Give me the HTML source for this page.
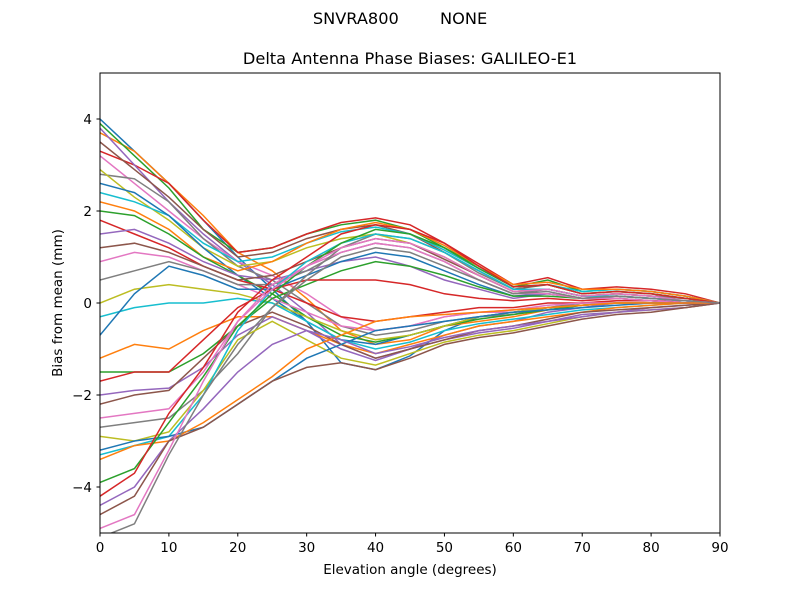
<!DOCTYPE html>
<html><head><meta charset="utf-8"><style>
body{margin:0;background:#fff}
svg{font-family:"DejaVu Sans","Liberation Sans",sans-serif}
</style></head><body>
<svg id="chart" width="800" height="600">
<rect width="800" height="600" fill="#fff"/>
<text x="400" y="24" text-anchor="middle" font-size="16.2" xml:space="preserve">SNVRA800        NONE</text>
<text x="410" y="64" text-anchor="middle" font-size="16.2">Delta Antenna Phase Biases: GALILEO-E1</text>
<defs><clipPath id="clip"><rect x="100" y="73" width="620" height="460"/></clipPath></defs>
<g id="lines" clip-path="url(#clip)"></g>
<rect x="100" y="73" width="620" height="460" fill="none" stroke="#000" stroke-width="1"/>
<g id="axes"></g>
<text x="410" y="574" text-anchor="middle" font-size="13.5">Elevation angle (degrees)</text>
<text transform="translate(62,303) rotate(-90)" text-anchor="middle" font-size="13.5">Bias from mean (mm)</text>
</svg>
<script>
const elevations=[0,5,10,15,20,25,30,35,40,45,50,55,60,65,70,75,80,85,90];
const xTicks=[0,10,20,30,40,50,60,70,80,90];
const yTicks=[-4,-2,0,2,4];
const s1=[4.0,3.3,2.6,1.8,1.0,0.3,-0.4,-1.3,-1.45,-1.15,-0.6,-0.3,-0.2,-0.1,-0.05,0,0,0,0];
const s2=[3.9,3.2,2.5,1.6,1.1,1.2,1.5,1.7,1.8,1.6,1.2,0.8,0.35,0.5,0.25,0.3,0.25,0.15,0];
const s3=[3.8,3.0,2.2,1.5,0.9,0.4,-0.2,-0.9,-1.2,-1.0,-0.7,-0.5,-0.4,-0.2,-0.1,0,0,0,0];
const s4=[3.5,2.9,2.3,1.6,1.0,1.1,1.4,1.6,1.7,1.5,1.1,0.7,0.3,0.4,0.2,0.25,0.2,0.1,0];
const s5=[3.2,2.6,2.0,1.4,0.9,0.6,0.2,-0.3,-0.6,-0.5,-0.3,-0.2,-0.2,-0.1,0,0.05,0.05,0.05,0];
const s6=[2.9,2.3,1.8,1.2,0.8,0.9,1.2,1.4,1.5,1.3,1.0,0.6,0.25,0.3,0.15,0.2,0.15,0.1,0];
const s7=[2.6,2.4,1.9,1.2,0.6,0.1,-0.4,-0.8,-0.9,-0.7,-0.5,-0.3,-0.2,-0.1,-0.05,0,0,0,0];
const s8=[2.2,2.0,1.6,1.0,0.7,0.9,1.3,1.6,1.75,1.6,1.25,0.8,0.4,0.45,0.3,0.3,0.25,0.15,0];
const s9=[1.8,1.5,1.2,0.8,0.5,0.3,0.0,-0.3,-0.4,-0.3,-0.2,-0.1,-0.1,0,0,0.05,0.05,0,0];
const s10=[1.5,1.6,1.3,0.9,0.6,0.5,0.7,0.9,1.0,0.8,0.5,0.3,0.1,0.2,0.1,0.15,0.1,0.05,0];
const s11=[0.9,1.1,1.0,0.7,0.4,0.1,-0.2,-0.5,-0.6,-0.5,-0.3,-0.2,-0.15,-0.05,0,0,0,0,0];
const s12=[0.5,0.7,0.9,0.7,0.4,0.4,0.7,1.1,1.3,1.2,0.9,0.5,0.2,0.3,0.15,0.2,0.15,0.1,0];
const s13=[0.0,0.3,0.4,0.3,0.2,0.0,-0.3,-0.6,-0.8,-0.7,-0.5,-0.3,-0.2,-0.1,-0.05,0,0,0,0];
const s14=[-0.7,0.2,0.8,0.6,0.3,0.3,0.6,0.9,1.1,1.0,0.7,0.4,0.15,0.2,0.1,0.15,0.1,0.05,0];
const s15=[-1.2,-0.9,-1.0,-0.6,-0.3,-0.3,-0.6,-0.9,-1.1,-0.9,-0.7,-0.5,-0.4,-0.3,-0.2,-0.1,-0.05,0,0];
const s16=[-1.7,-1.5,-1.5,-0.8,-0.1,0.3,0.5,0.5,0.5,0.4,0.2,0.1,0.05,0.1,0.05,0.1,0.05,0,0];
const s17=[-2.2,-2.0,-1.9,-1.2,-0.5,-0.2,-0.5,-0.9,-1.2,-1.0,-0.8,-0.6,-0.5,-0.35,-0.2,-0.15,-0.1,-0.05,0];
const s18=[-2.5,-2.4,-2.3,-1.5,-0.4,0.4,0.8,1.1,1.3,1.2,0.9,0.5,0.2,0.2,0.1,0.1,0.05,0,0];
const s19=[-2.9,-3.0,-2.8,-1.9,-0.8,-0.4,-0.8,-1.2,-1.35,-1.1,-0.85,-0.7,-0.6,-0.45,-0.3,-0.2,-0.15,-0.1,0];
const s20=[-3.3,-3.1,-2.9,-2.0,-0.6,0.3,0.9,1.3,1.5,1.4,1.1,0.7,0.3,0.3,0.15,0.15,0.1,0.05,0];
const s21=[-3.4,-3.1,-3.0,-2.6,-2.1,-1.6,-1.0,-0.7,-0.4,-0.3,-0.25,-0.2,-0.15,-0.1,-0.05,0,0,0,0];
const s22=[-4.2,-3.7,-2.4,-1.4,-0.2,0.5,1.0,1.5,1.7,1.6,1.3,0.8,0.35,0.4,0.2,0.25,0.2,0.1,0];
const s23=[-4.6,-4.2,-3.0,-2.7,-2.2,-1.7,-1.4,-1.3,-1.45,-1.2,-0.9,-0.75,-0.65,-0.5,-0.35,-0.25,-0.2,-0.1,0];
const s24=[-4.9,-4.6,-3.2,-1.7,-0.4,0.3,0.8,1.2,1.4,1.3,1.0,0.6,0.25,0.3,0.15,0.2,0.15,0.05,0];
const s25=[-5.1,-4.8,-3.3,-2.0,-0.9,-0.1,0.5,1.0,1.2,1.1,0.8,0.5,0.2,0.25,0.1,0.15,0.1,0.05,0];
const s26=[3.7,3.3,2.6,1.9,1.1,0.7,0.1,-0.6,-0.9,-0.8,-0.5,-0.4,-0.3,-0.15,-0.05,0,0,0,0];
const s27=[3.3,3.0,2.6,1.8,1.1,1.2,1.5,1.75,1.85,1.7,1.3,0.85,0.4,0.55,0.3,0.35,0.3,0.2,0];
const s28=[2.8,2.7,2.2,1.4,0.8,0.5,0.0,-0.5,-0.7,-0.6,-0.4,-0.3,-0.25,-0.1,0,0,0,0,0];
const s29=[2.4,2.2,1.9,1.3,0.9,1.0,1.3,1.55,1.65,1.5,1.15,0.75,0.35,0.4,0.25,0.3,0.25,0.15,0];
const s30=[2.0,1.9,1.5,1.0,0.6,0.2,-0.3,-0.7,-0.85,-0.7,-0.5,-0.35,-0.25,-0.15,-0.05,0,0,0,0];
const s31=[1.2,1.3,1.1,0.8,0.5,0.6,0.9,1.2,1.4,1.3,0.95,0.6,0.25,0.3,0.15,0.2,0.15,0.1,0];
const s32=[-0.3,-0.1,0.0,0.0,0.1,0.0,-0.4,-0.8,-1.0,-0.85,-0.6,-0.45,-0.35,-0.25,-0.15,-0.1,-0.05,0,0];
const s33=[-1.5,-1.5,-1.5,-1.1,-0.5,0.1,0.4,0.7,0.9,0.8,0.6,0.35,0.15,0.15,0.1,0.1,0.05,0,0];
const s34=[-2.0,-1.9,-1.85,-1.4,-0.7,-0.3,-0.6,-1.0,-1.25,-1.0,-0.8,-0.65,-0.55,-0.4,-0.25,-0.2,-0.1,-0.05,0];
const s35=[-2.7,-2.6,-2.5,-1.9,-1.1,-0.1,0.6,1.2,1.5,1.4,1.1,0.65,0.3,0.3,0.15,0.15,0.1,0.05,0];
const s36=[-3.2,-3.0,-2.9,-2.7,-2.2,-1.7,-1.2,-0.9,-0.6,-0.5,-0.4,-0.3,-0.2,-0.15,-0.1,-0.05,0,0,0];
const s37=[-3.9,-3.6,-2.6,-1.6,-0.5,0.2,0.8,1.3,1.6,1.5,1.2,0.75,0.35,0.4,0.2,0.25,0.2,0.1,0];
const s38=[-4.4,-4.0,-3.0,-2.3,-1.5,-0.9,-0.6,-0.8,-1.1,-0.95,-0.75,-0.6,-0.5,-0.4,-0.3,-0.2,-0.15,-0.1,0];
const series=[s1,s26,s2,s27,s3,s4,s5,s28,s6,s29,s7,s8,s30,s9,s10,s31,s11,s12,s13,s32,s14,s15,s33,s16,s34,s17,s18,s35,s19,s20,s36,s21,s37,s22,s38,s23,s24,s25];
const colors=["#1f77b4","#ff7f0e","#2ca02c","#d62728","#9467bd","#8c564b","#e377c2","#7f7f7f","#bcbd22","#17becf"];
const NS="http://www.w3.org/2000/svg";
const xs=v=>100+v/90*620;
const ys=v=>303-v*46;
const lg=document.getElementById('lines');
series.forEach((s,i)=>{
  const p=document.createElementNS(NS,'polyline');
  p.setAttribute('points',s.map((v,j)=>xs(elevations[j])+','+ys(v)).join(' '));
  p.setAttribute('fill','none');
  p.setAttribute('stroke',colors[i%10]);
  p.setAttribute('stroke-width','1.5');
  
  
  lg.appendChild(p);
});
const ax=document.getElementById('axes');
xTicks.forEach(t=>{
  const l=document.createElementNS(NS,'line');
  l.setAttribute('x1',xs(t));l.setAttribute('x2',xs(t));l.setAttribute('y1',533);l.setAttribute('y2',536.5);l.setAttribute('stroke','#000');
  
  
  ax.appendChild(l);
  const tx=document.createElementNS(NS,'text');
  tx.setAttribute('x',xs(t));tx.setAttribute('y',552);tx.setAttribute('text-anchor','middle');tx.setAttribute('font-size','13.5');
  tx.textContent=t;
  
  
  ax.appendChild(tx);
});
yTicks.forEach(t=>{
  const l=document.createElementNS(NS,'line');
  l.setAttribute('x1',96.5);l.setAttribute('x2',100);l.setAttribute('y1',ys(t));l.setAttribute('y2',ys(t));l.setAttribute('stroke','#000');
  
  
  ax.appendChild(l);
  const tx=document.createElementNS(NS,'text');
  tx.setAttribute('x',92);tx.setAttribute('y',ys(t)+5);tx.setAttribute('text-anchor','end');tx.setAttribute('font-size','13.5');
  tx.textContent=t<0?'\u2212'+(-t):t;
  
  
  ax.appendChild(tx);
});
</script>
</body></html>
